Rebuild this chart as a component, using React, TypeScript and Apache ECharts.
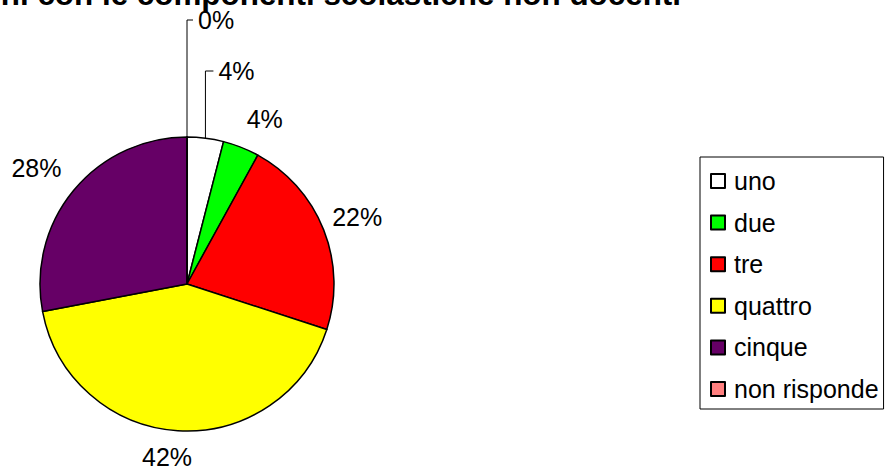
import React, { useEffect, useRef } from "react";
import * as echarts from "echarts";

const TITLE = "Relazioni con le componenti scolastiche non docenti";
const CATEGORIES = ["uno", "due", "tre", "quattro", "cinque", "non risponde"];
const VALUES = [4, 4, 22, 42, 28, 0];
const COLORS = ["#FFFFFF", "#00FF00", "#FF0000", "#FFFF00", "#660066", "#FF8080"];

// layout (not data)
const CX = 187;
const CY = 284;
const R = 147;
const FONT = "'Liberation Sans', Arial, sans-serif";
const LABEL_PLACE: any[] = [
  { elbow: true, rise: 213, run: 8 },
  { dist: 182, turn: 3.7 },
  { dist: 183, turn: 0 },
  { dist: 174, turn: 3 },
  { dist: 190, turn: -2 },
  { elbow: true, rise: 264, run: 6 },
];

const total = VALUES.reduce((a, b) => a + b, 0);
function midAngle(i: number) {
  let before = 0;
  for (let k = 0; k < i; k++) before += VALUES[k];
  return ((before + VALUES[i] / 2) / total) * 360;
}
function polar(angleDeg: number, dist: number) {
  const a = (angleDeg * Math.PI) / 180;
  return [CX + dist * Math.sin(a), CY - dist * Math.cos(a)];
}

export default function App() {
  const ref = useRef<HTMLDivElement>(null);
  useEffect(() => {
    if (!ref.current) return;
    const chart = echarts.init(ref.current, undefined, { renderer: "svg" });

    const elbows: any[] = [];
    LABEL_PLACE.forEach((p, i) => {
      if (!p.elbow) return;
      const s = polar(midAngle(i), R);
      const y = CY - p.rise;
      elbows.push({
        type: "polyline",
        silent: true,
        shape: { points: [s, [s[0], y], [s[0] + p.run, y]] },
        style: { stroke: "#000", lineWidth: 1, fill: "none" },
        z: 10,
      });
    });

    chart.setOption({
      animation: false,
      backgroundColor: "#fff",
      graphic: [
        {
          type: "text",
          x: 681,
          y: -6,
          silent: true,
          style: {
            text: TITLE,
            font: `bold 31.4px ${FONT}`,
            fill: "#000",
            textAlign: "right",
            textVerticalAlign: "middle",
          },
        },
        ...elbows,
      ],
      legend: {
        orient: "vertical",
        left: 700,
        top: 157,
        padding: [11, 5, 7, 10],
        itemWidth: 14,
        itemHeight: 14,
        itemGap: 15.6,
        icon: "rect",
        borderColor: "#000",
        borderWidth: 1,
        backgroundColor: "#fff",
        selectedMode: false,
        textStyle: {
          fontSize: 25,
          fontFamily: FONT,
          color: "#000",
          lineHeight: 26,
          padding: [0, 0, 0, 4],
        },
        data: CATEGORIES,
      },
      series: [
        {
          type: "pie",
          center: [CX, CY],
          radius: R,
          startAngle: 90,
          clockwise: true,
          avoidLabelOverlap: false,
          emphasis: { disabled: true },
          itemStyle: { borderColor: "#000", borderWidth: 1.5 },
          label: {
            show: true,
            formatter: (p: any) => Math.round(p.percent) + "%",
            fontSize: 25,
            fontFamily: FONT,
            color: "#000",
          },
          labelLine: { show: false },
          labelLayout: (params: any) => {
            const i = params.dataIndex;
            const p = LABEL_PLACE[i];
            if (p.elbow) {
              const s = polar(midAngle(i), R);
              return {
                x: s[0] + p.run + 5,
                y: CY - p.rise,
                align: "left",
                verticalAlign: "middle",
              };
            }
            const c = polar(midAngle(i) + p.turn, p.dist);
            return { x: c[0], y: c[1], align: "center", verticalAlign: "middle" };
          },
          data: CATEGORIES.map((name, i) => ({
            name,
            value: VALUES[i],
            itemStyle: { color: COLORS[i] },
          })),
        },
      ],
    });
    return () => chart.dispose();
  }, []);
  return (
    <div
      ref={ref}
      style={{ position: "fixed", left: 0, top: 0, width: 891, height: 471, background: "#fff" }}
    />
  );
}
